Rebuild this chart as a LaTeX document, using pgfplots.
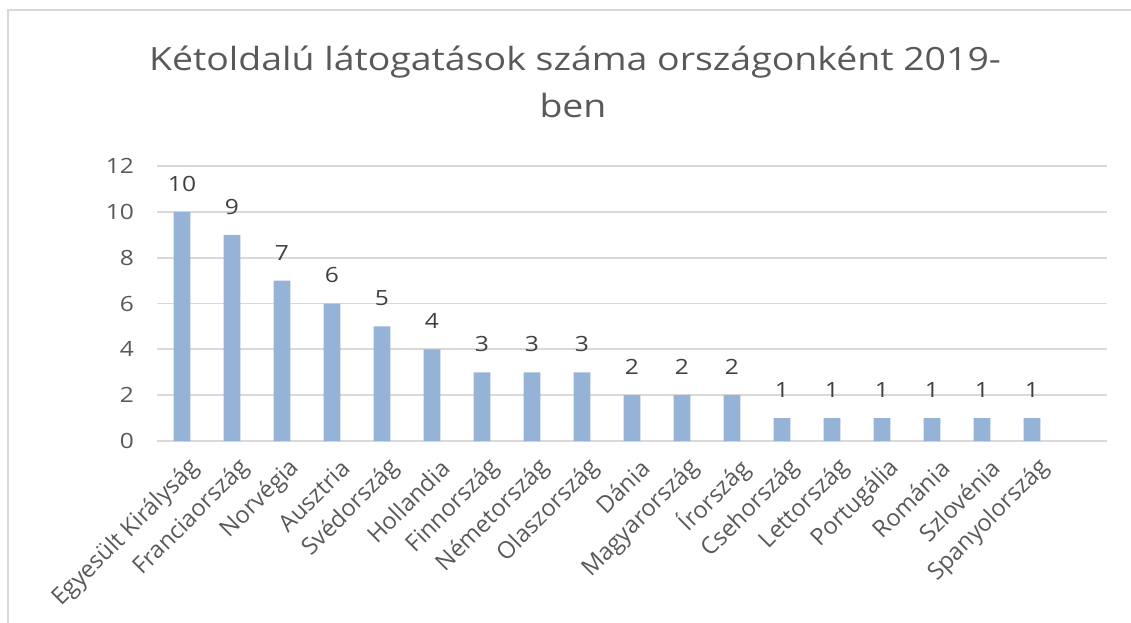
\documentclass[border=0pt]{standalone}
\usepackage{pgfplots}
\pgfplotsset{compat=1.18}
\usepackage{fontspec}
\setmainfont{Open Sans}[FakeStretch=1.17]
\newfontfamily\plainfont{Open Sans}
\definecolor{barblue}{HTML}{95B3D7}
\definecolor{gridgray}{HTML}{D9D9D9}
\definecolor{txtgray}{HTML}{595959}
\definecolor{lblgray}{HTML}{404040}
\begin{document}
\begin{tikzpicture}
\useasboundingbox (0,0) rectangle (565.5bp,-311.5bp);
\draw[gridgray, line width=1bp] (4bp,-311.5bp) -- (4bp,-5bp) -- (565.5bp,-5bp);
\node[txtgray, font=\fontsize{16bp}{20bp}\selectfont, anchor=base, inner sep=0pt] at (287.5bp,-35bp) {Kétoldalú látogatások száma országonként 2019-};
\node[txtgray, font=\fontsize{16bp}{20bp}\selectfont, anchor=base, inner sep=0pt] at (286.5bp,-58.5bp) {ben};
\begin{axis}[
  at={(78.5bp,-220.5bp)}, anchor=south west,
  scale only axis, width=475bp, height=137.5bp,
  xmin=-0.5, xmax=18.5, ymin=0, ymax=12,
  ytick={0,2,...,12},
  xtick={0,...,17},
  xticklabels={Egyesült Királyság,Franciaország,Norvégia,Ausztria,Svédország,Hollandia,Finnország,Németország,Olaszország,Dánia,Magyarország,Írország,Csehország,Lettország,Portugália,Románia,Szlovénia,Spanyolország},
  axis lines=left,
  axis line style={draw=none},
  major tick length=0pt,
  ymajorgrids,
  grid style={gridgray, line width=0.9bp},
  /pgf/number format/assume math mode=true,
  tick label style={font=\fontsize{10.5bp}{12bp}\selectfont, text=txtgray},
  yticklabel style={xshift=-8bp},
  xticklabel style={font=\plainfont\fontsize{11.8bp}{13bp}\selectfont, rotate=45, anchor=east, yshift=-13bp, xshift=0bp},
  ybar, bar width=8.3bp,
  nodes near coords,
  nodes near coords style={font=\fontsize{10.5bp}{12bp}\selectfont, text=lblgray, anchor=south, inner sep=0pt, yshift=10bp},
  clip=false,
]
\addplot[fill=barblue, draw=none] coordinates {
(0,10) (1,9) (2,7) (3,6) (4,5) (5,4) (6,3) (7,3) (8,3) (9,2) (10,2) (11,2) (12,1) (13,1) (14,1) (15,1) (16,1) (17,1)
};
\end{axis}
\end{tikzpicture}
\end{document}
